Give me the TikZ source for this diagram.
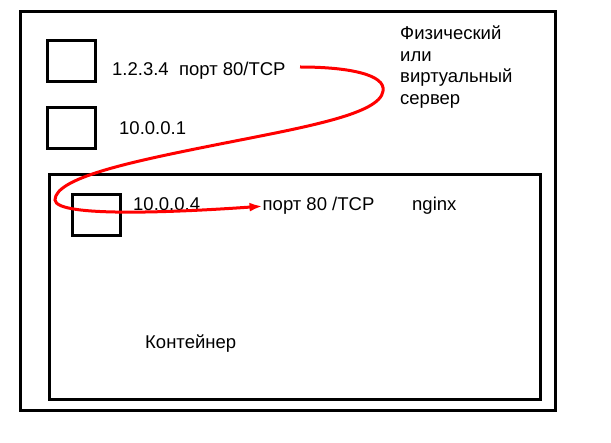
\documentclass[tikz,border=0pt]{standalone}
\usepackage{fontspec}
\setmainfont{Liberation Sans}
\usetikzlibrary{arrows.meta}
\begin{document}
\begin{tikzpicture}[x=1pt,y=-1pt,
    box/.style={draw,line width=3pt},
    nic/.style={draw,line width=3pt,minimum width=48pt,minimum height=41pt,inner sep=0pt},
    lbl/.style={anchor=base west,inner sep=0pt,font=\fontsize{18.5}{21.5}\selectfont}]
    \useasboundingbox (0,0) rectangle (611,443);
    % host and container
    \draw[box] (20,12) rectangle (555,411);
    \draw[box] (49,175) rectangle (540,400);
    \node[nic] (eth0) at (71.5,61) {};
    \node[nic] (docker0) at (71.5,128.5) {};
    \node[nic] (veth) at (96,215) {};
    % labels
    \node[lbl] (ext) at (112,75.5) {1.2.3.4\ \ порт 80/TCP};
    \node[lbl] (bridge) at (119,135) {10.0.0.1};
    \node[lbl] (cip) at (133,211) {10.0.0.4};
    \node[lbl] (cport) at (262.5,211) {порт 80 /TCP};
    \node[lbl] (app) at (412,211) {nginx};
    \node[lbl,align=left] (host) at (400,104.5) {Физический\\или\\виртуальный\\сервер};
    \node[lbl] (ctr) at (145,349) {Контейнер};
    % forwarded port
    \coordinate (s) at (300,67);
    \coordinate (r) at (383,91);
    \coordinate (m) at (210,146);
    \coordinate (l) at (55,200);
    \draw[red,line width=3pt,-{Latex[length=13pt,width=9pt]}] (s)
        .. controls (350,67) and (386,75) .. (r)
        .. controls (380,115) and (300,128) .. (m)
        .. controls (130,162) and (55,178) .. (l)
        .. controls (56,218) and (180,212) .. (cport.west);
\end{tikzpicture}
\end{document}
